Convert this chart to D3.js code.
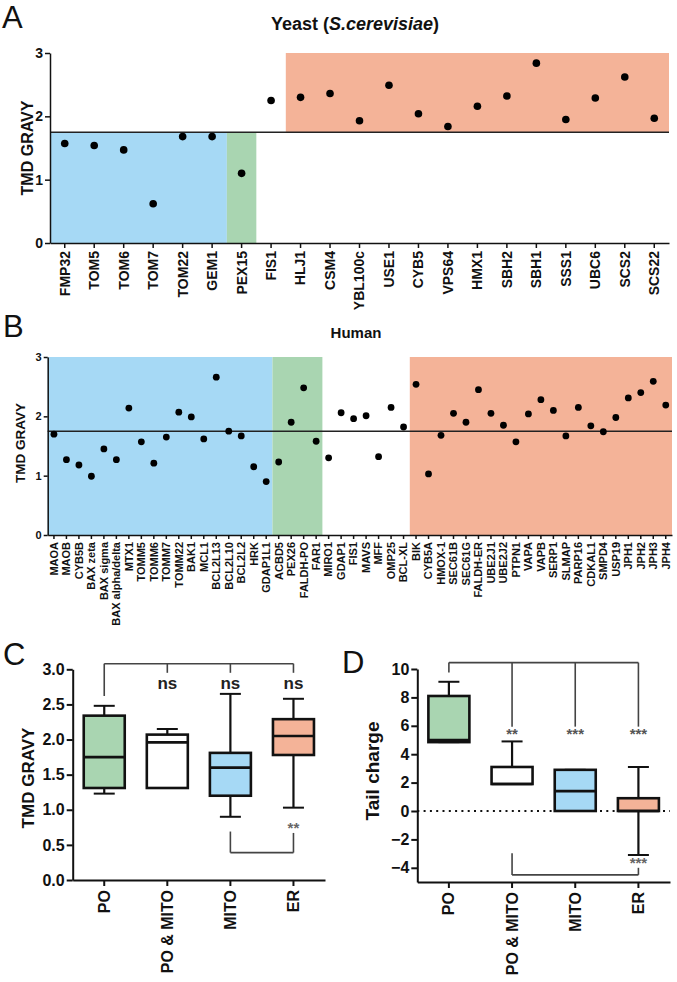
<!DOCTYPE html>
<html><head><meta charset="utf-8">
<script src="https://cdn.jsdelivr.net/npm/d3@7"></script>
<style>
body{margin:0;background:#fff}
svg{display:block}
text{font-family:"Liberation Sans",Arial,Helvetica,sans-serif}
</style>
</head><body>
<svg id="chart" width="677" height="982"></svg>
<script>
// ---------------- DATA ----------------
const yeastGenes = ["FMP32","TOM5","TOM6","TOM7","TOM22","GEM1","PEX15","FIS1","HLJ1","CSM4","YBL100c","USE1","CYB5","VPS64","HMX1","SBH2","SBH1","SSS1","UBC6","SCS2","SCS22"];
const yeastGravy = [1.57,1.54,1.47,0.62,1.68,1.68,1.10,2.25,2.30,2.36,1.93,2.49,2.04,1.84,2.16,2.32,2.84,1.95,2.29,2.62,1.97];
const yeastRegions = [
  {from:"FMP32", to:"GEM1", lo:0, hi:1.75, group:"MITO"},
  {from:"PEX15", to:"PEX15", lo:0, hi:1.75, group:"PO"},
  {from:"HLJ1", to:"SCS22", lo:1.75, hi:3.0, group:"ER"}
];
const humanGenes = ["MAOA","MAOB","CYB5B","BAX zeta","BAX sigma","BAX alpha/delta","MTX1","TOMM5","TOMM6","TOMM7","TOMM22","BAK1","MCL1","BCL2L13","BCL2L10","BCL2L2","HRK","GDAP1L1",
  "ACBD5","PEX26","FALDH-PO","FAR1",
  "MIRO1","GDAP1","FIS1","MAVS","MFF","OMP25","BCL-XL",
  "BIK","CYB5A","HMOX-1","SEC61B","SEC61G","FALDH-ER","UBE2J1","UBE2J2","PTPN1","VAPA","VAPB","SERP1","SLMAP","PARP16","CDKAL1","SMPD4","USP19","JPH1","JPH2","JPH3","JPH4"];
const humanGravy = [1.70,1.27,1.18,0.99,1.45,1.27,2.14,1.57,1.21,1.65,2.07,1.99,1.62,2.66,1.75,1.67,1.15,0.90,
  1.23,1.90,2.48,1.58,
  1.30,2.06,1.96,2.01,1.32,2.15,1.82,
  2.54,1.03,1.68,2.05,1.90,2.45,2.05,1.85,1.57,2.04,2.28,2.10,1.67,2.15,1.84,1.74,1.98,2.31,2.40,2.59,2.19];
const humanRegions = [
  {from:"MAOA", to:"GDAP1L1", lo:0, hi:3, group:"MITO"},
  {from:"ACBD5", to:"FAR1", lo:0, hi:3, group:"PO"},
  {from:"BIK", to:"JPH4", lo:0, hi:3, group:"ER"}
];
const gravyThreshold = 1.75;

const boxCategories = ["PO","PO & MITO","MITO","ER"];
const boxGroups = ["PO","BOTH","MITO","ER"];
// TMD GRAVY box stats
const gravyMin = [1.23,1.31,0.90,1.03];
const gravyQ1  = [1.31,1.31,1.20,1.78];
const gravyMed = [1.75,1.96,1.60,2.05];
const gravyQ3  = [2.34,2.07,1.81,2.29];
const gravyMax = [2.48,2.15,2.65,2.58];
const gravyTopSig = ["", "ns","ns","ns"];
const gravyLowSig = "**";
// Tail charge box stats
const chargeMin = [4.85,1.9,0.0,-3.1];
const chargeQ1  = [4.85,1.9,0.0,0.0];
const chargeMed = [5.0,1.9,1.4,0.0];
const chargeQ3  = [8.1,3.1,2.9,0.9];
const chargeMax = [9.1,4.9,2.9,3.1];
const chargeTopSig = ["", "**","***","***"];
const chargeLowSig = "***";

const gravyTicks = [0,0.5,1.0,1.5,2.0,2.5,3.0];
const chargeTicks = [-4,-2,0,2,4,6,8,10];

// ---------------- STYLE ----------------
const colors = {MITO:"#a6d9f5", PO:"#a9d5b1", ER:"#f4b398", BOTH:"#ffffff"};
const svg = d3.select("#chart");
svg.append("rect").attr("width",677).attr("height",982).attr("fill","#fff");

function styleAxis(g, sw){
  g.selectAll("path.domain").attr("stroke","#111").attr("stroke-width",sw);
  g.selectAll(".tick line").attr("stroke","#111").attr("stroke-width",sw);
  g.selectAll("text").attr("fill","#111").attr("font-weight","bold").attr("font-family","'Liberation Sans',Arial,sans-serif");
}

function rotateLabels(g, fs, off){
  g.selectAll(".tick text")
    .attr("transform","rotate(-90)")
    .attr("text-anchor","end")
    .attr("x",-off).attr("y",0).attr("dy","0.35em")
    .attr("font-size",fs);
}

// ---------------- DOT PANELS ----------------
function dotPanel(o){
  const x = d3.scaleBand().domain(o.names).range([o.x0,o.x1]).padding(0);
  const y = d3.scaleLinear().domain([0,3]).range([o.yBot,o.yTop]);
  const g = svg.append("g");
  o.regions.forEach(r=>{
    g.append("rect")
      .attr("x",x(r.from)).attr("width",x(r.to)+x.bandwidth()-x(r.from))
      .attr("y",y(r.hi)).attr("height",y(r.lo)-y(r.hi))
      .attr("fill",colors[r.group]);
  });
  g.append("line").attr("x1",o.x0).attr("x2",o.x1)
    .attr("y1",y(gravyThreshold)).attr("y2",y(gravyThreshold))
    .attr("stroke","#222").attr("stroke-width",1.5);
  g.selectAll("circle.dot").data(o.values).join("circle").attr("class","dot")
    .attr("cx",(d,i)=>x(o.names[i])+x.bandwidth()/2)
    .attr("cy",d=>y(d)).attr("r",o.r).attr("fill","#000");
  const ya = g.append("g").attr("transform",`translate(${o.x0},0)`)
    .call(d3.axisLeft(y).tickValues([0,1,2,3]).tickFormat(d3.format("d")).tickSize(o.tick).tickSizeOuter(0).tickPadding(2));
  styleAxis(ya,1.5);
  ya.selectAll("text").attr("font-size",o.yFont);
  const xa = g.append("g").attr("transform",`translate(0,${o.yBot})`)
    .call(d3.axisBottom(x).tickSize(o.tick).tickSizeOuter(0));
  styleAxis(xa,1.5);
  rotateLabels(xa,o.xFont,o.tick+3);
  g.append("text").attr("transform",`translate(${o.titleX},${(o.yTop+o.yBot)/2+o.titleDY}) rotate(-90)`)
    .attr("text-anchor","middle").attr("dy","0.36em").attr("font-weight","bold")
    .attr("font-size",o.titleFont).attr("fill","#111").text("TMD GRAVY");
  return {x,y};
}

dotPanel({names:yeastGenes, values:yeastGravy, regions:yeastRegions,
  x0:50, x1:669, yTop:53, yBot:243, r:3.8, tick:5, yFont:14, xFont:14, titleFont:16, titleX:27, titleDY:0});
dotPanel({names:humanGenes, values:humanGravy, regions:humanRegions,
  x0:47.7, x1:672, yTop:357, yBot:535, r:3.4, tick:4, yFont:11, xFont:11, titleFont:13.5, titleX:20, titleDY:-3});

// panel titles
const t1 = svg.append("text").attr("x",355).attr("y",30).attr("text-anchor","middle")
  .attr("font-size",18).attr("font-weight","bold").attr("fill","#111");
t1.append("tspan").text("Yeast (");
t1.append("tspan").attr("font-style","italic").text("S.cerevisiae");
t1.append("tspan").text(")");
svg.append("text").attr("x",356).attr("y",338).attr("text-anchor","middle")
  .attr("font-size",15).attr("font-weight","bold").attr("fill","#111").text("Human");

const letters = [["A",2,28],["B",3,337],["C",3,665],["D",342,673]];
letters.forEach(([t,xx,yy])=>{
  svg.append("text").attr("x",xx).attr("y",yy).attr("font-size",31).attr("fill","#111").text(t);
});

// ---------------- BOX PANELS ----------------
function boxPanel(o){
  const x = d3.scaleBand().domain(boxCategories).range([o.x0,o.x1]).padding(0);
  const y = d3.scaleLinear().domain(o.domain).range([o.yBot,o.yTop]);
  const g = svg.append("g");
  const cx = c => x(c)+x.bandwidth()/2;
  const bw = 41, cw = 21;
  if(o.zeroLine){
    g.append("line").attr("x1",o.x0).attr("x2",o.x1).attr("y1",y(0)).attr("y2",y(0))
      .attr("stroke","#111").attr("stroke-width",2.2).attr("stroke-dasharray","2,4.3");
  }
  boxCategories.forEach((c,i)=>{
    const xc = cx(c);
    const bg = g.append("g");
    // whiskers
    [[o.min[i],o.q1[i]],[o.q3[i],o.max[i]]].forEach(([a,b])=>{
      if(Math.abs(a-b)>1e-6){
        bg.append("line").attr("x1",xc).attr("x2",xc).attr("y1",y(a)).attr("y2",y(b))
          .attr("stroke","#111").attr("stroke-width",2.2);
      }
    });
    [o.min[i],o.max[i]].forEach(v=>{
      bg.append("line").attr("x1",xc-cw/2).attr("x2",xc+cw/2).attr("y1",y(v)).attr("y2",y(v))
        .attr("stroke","#111").attr("stroke-width",2);
    });
    bg.append("rect").attr("x",xc-bw/2).attr("width",bw)
      .attr("y",y(o.q3[i])).attr("height",y(o.q1[i])-y(o.q3[i]))
      .attr("fill",colors[boxGroups[i]]).attr("stroke","#111").attr("stroke-width",2.6);
    bg.append("line").attr("x1",xc-bw/2).attr("x2",xc+bw/2).attr("y1",y(o.med[i])).attr("y2",y(o.med[i]))
      .attr("stroke","#111").attr("stroke-width",2.6);
  });
  // axes
  const ya = g.append("g").attr("transform",`translate(${o.x0},0)`)
    .call(d3.axisLeft(y).tickValues(o.ticks).tickFormat(o.fmt).tickSize(6).tickSizeOuter(0).tickPadding(2));
  styleAxis(ya,2);
  ya.selectAll("text").attr("font-size",16);
  const xa = g.append("g").attr("transform",`translate(0,${o.yBot})`)
    .call(d3.axisBottom(x).tickSize(6).tickSizeOuter(0));
  styleAxis(xa,2);
  rotateLabels(xa,16,10);
  g.append("text").attr("transform",`translate(${o.titleX},${o.titleY}) rotate(-90)`)
    .attr("text-anchor","middle").attr("dy","0.36em").attr("font-weight","bold")
    .attr("font-size",o.titleFont).attr("fill","#111").text(o.title);
  // significance brackets
  const bc = "#444";
  const first = cx(boxCategories[0]), last = cx(boxCategories[3]);
  g.append("line").attr("x1",first).attr("x2",last).attr("y1",y(o.topBar)).attr("y2",y(o.topBar))
    .attr("stroke",bc).attr("stroke-width",1.6);
  g.append("line").attr("x1",first).attr("x2",first).attr("y1",y(o.topBar)).attr("y2",y(o.topFirstEnd))
    .attr("stroke",bc).attr("stroke-width",1.6);
  boxCategories.slice(1).forEach((c,k)=>{
    g.append("line").attr("x1",cx(c)).attr("x2",cx(c)).attr("y1",y(o.topBar)).attr("y2",y(o.topOtherEnd))
      .attr("stroke",bc).attr("stroke-width",1.6);
    g.append("text").attr("x",cx(c)).attr("y",o.sigY).attr("text-anchor","middle")
      .attr("font-size",o.sigFont).attr("font-weight","bold").attr("fill",o.sigColor).text(o.topSig[k+1]);
  });
  const la = cx(boxCategories[o.lowFrom]);
  g.append("line").attr("x1",la).attr("x2",last).attr("y1",y(o.lowBar)).attr("y2",y(o.lowBar))
    .attr("stroke",bc).attr("stroke-width",1.6);
  g.append("line").attr("x1",la).attr("x2",la).attr("y1",y(o.lowBar)).attr("y2",y(o.lowLeftEnd))
    .attr("stroke",bc).attr("stroke-width",1.6);
  g.append("line").attr("x1",last).attr("x2",last).attr("y1",y(o.lowBar)).attr("y2",y(o.lowRightEnd))
    .attr("stroke",bc).attr("stroke-width",1.6);
  g.append("text").attr("x",last).attr("y",o.lowSigY).attr("text-anchor","middle")
    .attr("font-size",15).attr("font-weight","bold").attr("fill","#666").text(o.lowSig);
}

boxPanel({x0:72.7, x1:325, yTop:669.3, yBot:880, domain:[0,3],
  min:gravyMin,q1:gravyQ1,med:gravyMed,q3:gravyQ3,max:gravyMax,
  ticks:gravyTicks, fmt:d3.format(".1f"), title:"TMD GRAVY", titleFont:17, titleX:28, titleY:778,
  topBar:3.08, topFirstEnd:2.62, topOtherEnd:2.95, topSig:gravyTopSig, sigY:689, sigFont:17, sigColor:"#222",
  lowFrom:2, lowBar:0.39, lowLeftEnd:0.69, lowRightEnd:0.67, lowSig:gravyLowSig, lowSigY:833});

boxPanel({x0:417.3, x1:670, yTop:669, yBot:882, domain:[-5,10], zeroLine:true,
  min:chargeMin,q1:chargeQ1,med:chargeMed,q3:chargeQ3,max:chargeMax,
  ticks:chargeTicks, fmt:d3.format("d"), title:"Tail charge", titleFont:19, titleX:372, titleY:771,
  topBar:10.45, topFirstEnd:9.75, topOtherEnd:5.94, topSig:chargeTopSig, sigY:739, sigFont:15, sigColor:"#555",
  lowFrom:1, lowBar:-4.5, lowLeftEnd:-2.98, lowRightEnd:-4.0, lowSig:chargeLowSig, lowSigY:868});
</script>
</body></html>
